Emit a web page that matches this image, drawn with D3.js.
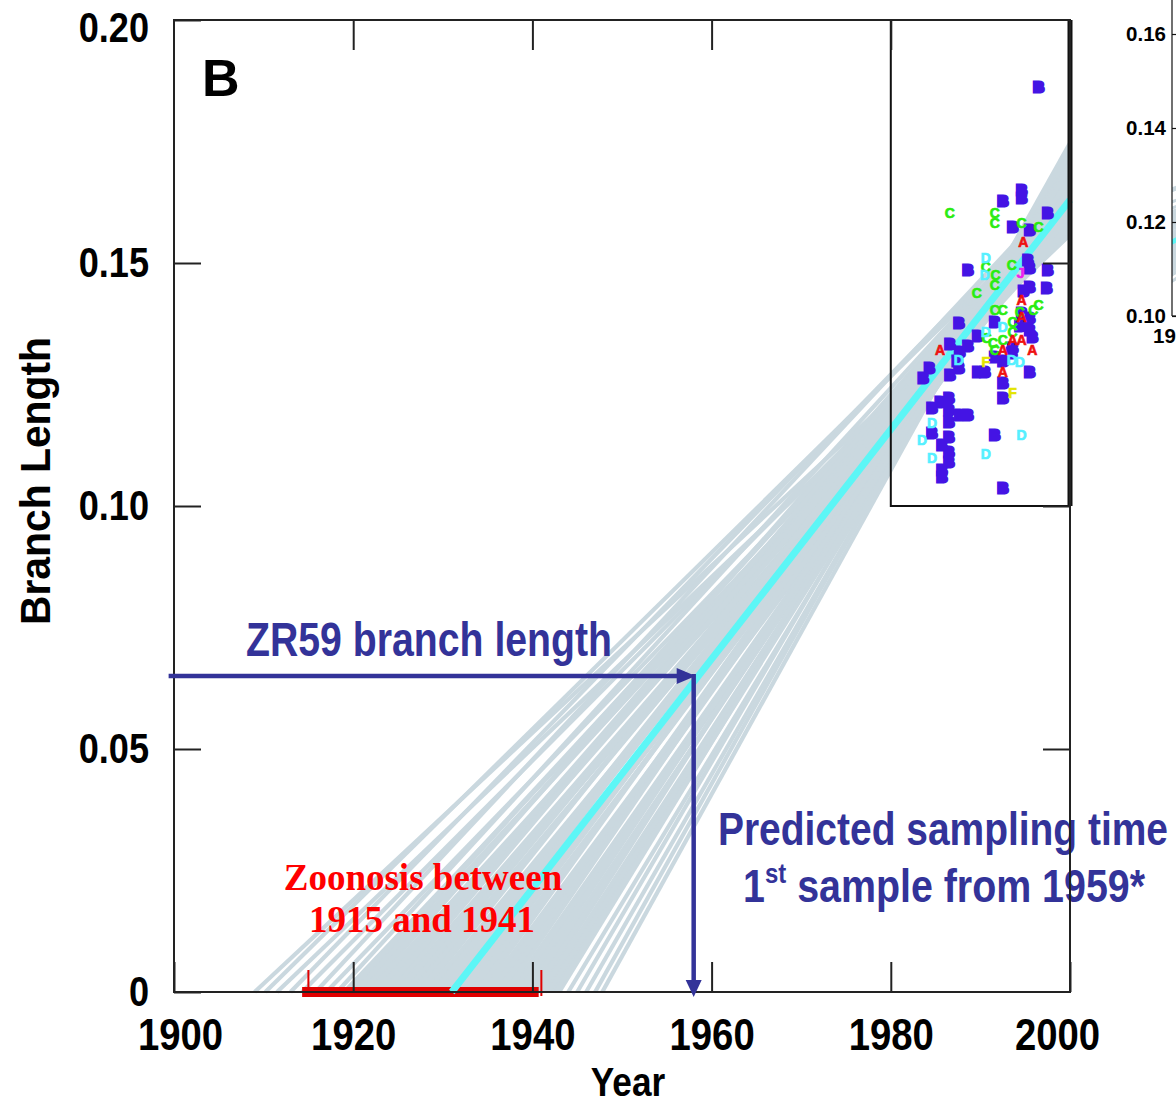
<!DOCTYPE html>
<html><head><meta charset="utf-8">
<script src="https://cdn.jsdelivr.net/npm/d3@7"></script>
<style>body{margin:0;background:#fff}svg{display:block}</style>
</head><body>
<svg id="c" width="1176" height="1103"></svg>
<script>
// ---------- data ----------
const xTicks = [1900, 1920, 1940, 1960, 1980, 2000];
const yTicks = [0, 0.05, 0.10, 0.15, 0.20];
const yTickLabels = ["0", "0.05", "0.10", "0.15", "0.20"];
const insetYTicks = [0.10, 0.12, 0.14, 0.16];
const insetXTicks = [1980];

// bootstrap regression lines: year where branch length = 0, and value at 2000
const fanIntercept = [1909.0,1910.2,1911.5,1913.0,1914.3,1915.8,1917.0,1918.2,
  1919.0,1919.8,1920.6,1921.4,1922.2,1923.0,1923.8,1924.6,1925.4,1926.2,1927.0,1927.8,
  1928.6,1929.4,1930.2,1931.0,1931.8,1932.6,1933.4,1934.2,1935.0,1935.8,1936.6,1937.4,
  1938.2,1939.0,1939.8,1940.6,1941.4,1942.2,1943.0,1944.0,1945.0,1946.0,1947.0,1947.8,
  1919.4,1920.2,1921.0,1921.8,1922.6,1923.4,1924.2,1925.0,1925.8,1926.6,1927.4,1928.2,
  1929.0,1929.8,1930.6,1931.4,1932.2,1933.0,1933.8,1934.6,1935.4,1936.2,1937.0,1937.8,
  1938.6,1939.4,1940.2,1941.0,1941.8,1942.6];
const fanEnd2000 = [0.1565,0.1630,0.1558,0.1650,0.1587,0.1662,0.1581,0.1645,
  0.1575,0.1622,0.1601,0.1649,0.1572,0.1619,0.1644,0.1601,0.1592,0.1640,0.1620,0.1668,
  0.1590,0.1639,0.1665,0.1622,0.1613,0.1662,0.1642,0.1691,0.1613,0.1663,0.1690,0.1647,
  0.1639,0.1689,0.1670,0.1721,0.1666,0.1694,0.1722,0.1704,0.1734,0.1728,0.1747,0.1741,
  0.1610,0.1589,0.1636,0.1582,0.1630,0.1609,0.1657,0.1580,0.1627,0.1607,0.1655,0.1601,
  0.1649,0.1629,0.1678,0.1600,0.1649,0.1629,0.1678,0.1623,0.1673,0.1653,0.1703,0.1637,
  0.1676,0.1656,0.1707,0.1676,0.1703,0.1696];

// best-fit line
const fitYears = [1931, 2000];
const fitValues = [0, 0.163];

// ZR59
const zr59Year = 1958;
const zr59Length = 0.065;
const arrowStartYear = 1899.4;

// zoonosis interval
const zoonosisYears = [1915, 1941];
const zoonosisBar = [1914.3, 1940.7];

// sampled sequences (year, branch length, subtype)
const ptYear = [1996.5,1994.6,1994.6,1992.5,1993.6,1995.5,1997.5,1988.6,1995.3,1995.5,1997.5,1994.8,1995.5,1997.4,
  1994.6,1995.5,1987.6,1991.6,1994.4,1995.5,1989.7,1995.8,1986.6,1988.6,1993.6,1987.7,1991.6,1992.5,1987.4,1984.3,
  1987.6,1986.6,1989.7,1990.5,1995.5,1983.6,1992.5,1992.5,1986.5,1986.5,1986.5,1985.5,1984.6,1987.7,1988.6,1984.6,
  1986.5,1991.6,1985.7,1986.5,1986.5,1985.7,1985.7,1992.5,1993.5,
  1986.6,1991.6,1991.6,1994.6,1996.5,1990.6,1991.7,1989.6,1993.5,1991.6,1991.6,1992.5,1995.9,1996.5,1993.6,1993.6,
  1991.4,1992.5,1991.6,1990.7,1994.4,
  1994.8,1994.6,1994.6,1993.6,1994.6,1985.5,1992.5,1995.8,1992.5,
  1990.6,1990.5,1992.5,1990.6,1987.6,1993.5,1994.4,1984.6,1983.5,1994.6,1984.6,1990.6,
  1990.6,1993.6,
  1994.5];
const ptLength = [0.1862,0.1652,0.1634,0.1628,0.1574,0.1568,0.1603,0.1486,0.1506,0.1490,0.1486,0.1444,0.1451,0.1449,
  0.1397,0.1387,0.1377,0.1379,0.1372,0.1362,0.1350,0.1348,0.1335,0.1331,0.1325,0.1317,0.1307,0.1300,0.1300,0.1284,
  0.1284,0.1270,0.1276,0.1276,0.1276,0.1265,0.1253,0.1224,0.1224,0.1198,0.1173,0.1214,0.1202,0.1189,0.1189,0.1152,
  0.1142,0.1146,0.1126,0.1111,0.1091,0.1074,0.1060,0.1037,0.1315,
  0.1603,0.1603,0.1582,0.1582,0.1574,0.1492,0.1475,0.1438,0.1496,0.1455,0.1403,0.1403,0.1403,0.1414,0.1379,0.1358,
  0.1335,0.1342,0.1321,0.1346,0.1399,
  0.1543,0.1424,0.1389,0.1342,0.1342,0.1321,0.1321,0.1321,0.1276,
  0.1510,0.1475,0.1368,0.1358,0.1300,0.1300,0.1296,0.1171,0.1136,0.1146,0.1099,0.1107,
  0.1296,0.1233,
  0.1479];
const ptType = [].concat(
  Array(55).fill("B"), Array(21).fill("C"), Array(9).fill("A"),
  Array(12).fill("D"), Array(2).fill("F"), ["J"]);

const typeColor = {A:"#ee1010", B:"#4414e4", C:"#2aec10", D:"#55f0ff", F:"#e4e400", J:"#ee20ee"};

// ---------- drawing ----------
const svg = d3.select("#c");
const SANS = "'Liberation Sans', Arial, Helvetica, sans-serif";
const SERIF = "'Liberation Serif', 'Times New Roman', serif";
const x = d3.scaleLinear().domain([1900, 2000]).range([174, 1070]);
const y = d3.scaleLinear().domain([0, 0.20]).range([992, 20]);
const navy = "#333399";

const defs = svg.append("defs");
defs.append("clipPath").attr("id", "plotClip").append("rect")
  .attr("x", x(1900)).attr("y", y(0.2)).attr("width", x(2000) - x(1900)).attr("height", y(0) - y(0.2) + 6);

const lineGen = d3.line().x(d => x(d[0])).y(d => y(d[1]));
const fanData = fanIntercept.map((a, i) => [[a, 0], [2000, fanEnd2000[i]]]);

svg.append("g").attr("clip-path", "url(#plotClip)")
  .selectAll("path").data(fanData).join("path")
  .attr("d", lineGen).attr("fill", "none").attr("stroke", "#cad8df").attr("stroke-width", 4.2);

// zoonosis bar
svg.append("rect")
  .attr("x", x(zoonosisBar[0])).attr("width", x(zoonosisBar[1]) - x(zoonosisBar[0]))
  .attr("y", y(0) - 5).attr("height", 10).attr("fill", "#e00000");
svg.append("g").selectAll("line").data(zoonosisYears).join("line")
  .attr("x1", d => x(d)).attr("x2", d => x(d)).attr("y1", y(0) - 22).attr("y2", y(0) + 4)
  .attr("stroke", "#e00000").attr("stroke-width", 2);

// best fit line
svg.append("path").datum(fitYears.map((t, i) => [t, fitValues[i]]))
  .attr("d", lineGen).attr("fill", "none").attr("stroke", "#5cf6f6").attr("stroke-width", 7);

// points
const pts = ptYear.map((t, i) => ({t, v: ptLength[i], s: ptType[i]}));
svg.append("g").selectAll("text").data(pts).join("text")
  .attr("x", d => x(d.t)).attr("y", d => y(d.v)).attr("dy", "0.36em")
  .attr("text-anchor", "middle").attr("font-family", SANS).attr("font-weight", "bold")
  .attr("font-size", d => d.s === "B" ? 15 : 14)
  .attr("fill", d => typeColor[d.s])
  .attr("stroke", d => typeColor[d.s]).attr("stroke-width", d => d.s === "B" ? 3 : 0.7)
  .text(d => d.s);

// inset box
svg.append("rect").attr("x", x(1980)).attr("y", y(0.2)).attr("width", x(2000) - x(1980))
  .attr("height", y(0.10) - y(0.2)).attr("fill", "none").attr("stroke", "#111").attr("stroke-width", 2);
svg.append("line").attr("x1", x(2000)).attr("x2", x(2000)).attr("y1", y(0.2)).attr("y2", y(0.10))
  .attr("stroke", "#111").attr("stroke-width", 5);

// frame
svg.append("rect").attr("x", x(1900)).attr("y", y(0.2)).attr("width", x(2000) - x(1900))
  .attr("height", y(0) - y(0.2)).attr("fill", "none").attr("stroke", "#222").attr("stroke-width", 2);

function condense(sel, k) {
  sel.each(function () {
    const L = this.getComputedTextLength();
    d3.select(this).attr("textLength", L * k).attr("lengthAdjust", "spacingAndGlyphs");
  });
}

// axes
const gB = svg.append("g").attr("transform", `translate(0,${y(0)})`)
  .call(d3.axisBottom(x).tickValues(xTicks).tickSizeInner(-30).tickSizeOuter(0).tickPadding(27).tickFormat(d3.format("d")));
const gL = svg.append("g").attr("transform", `translate(${x(1900)},0)`)
  .call(d3.axisLeft(y).tickValues(yTicks).tickSizeInner(-27).tickSizeOuter(0).tickPadding(25)
    .tickFormat((d, i) => yTickLabels[i]));
const gT = svg.append("g").attr("transform", `translate(0,${y(0.2)})`)
  .call(d3.axisTop(x).tickValues(xTicks.slice(1, -1)).tickSizeInner(-30).tickSizeOuter(0).tickFormat(""));
const gR = svg.append("g").attr("transform", `translate(${x(2000)},0)`)
  .call(d3.axisRight(y).tickValues(yTicks.slice(1, -1)).tickSizeInner(-27).tickSizeOuter(0).tickFormat(""));
[gB, gL, gT, gR].forEach(g => {
  g.select(".domain").remove();
  g.selectAll("line").attr("stroke", "#222").attr("stroke-width", 2);
  g.selectAll("text").attr("font-family", SANS).attr("font-weight", "bold").attr("fill", "#000");
});
gB.selectAll("text").attr("font-size", 44);
gB.selectAll("text").filter(d => d === 1900).attr("dx", 6);
gB.selectAll("text").filter(d => d === 2000).attr("dx", -13);
gL.selectAll("text").attr("font-size", 42);
gL.selectAll("text").filter(d => d === 0.2).attr("dy", "0.52em");
condense(gB.selectAll("text"), 0.87);
condense(gL.selectAll("text"), 0.86);

// axis titles
svg.append("text").attr("x", 628).attr("y", 1096).attr("text-anchor", "middle")
  .attr("font-family", SANS).attr("font-weight", "bold").attr("font-size", 40).text("Year")
  .call(s => condense(s, 0.88));
svg.append("text").attr("transform", "translate(50,481) rotate(-90)").attr("text-anchor", "middle")
  .attr("font-family", SANS).attr("font-weight", "bold").attr("font-size", 43).text("Branch Length")
  .attr("textLength", 288).attr("lengthAdjust", "spacingAndGlyphs");

// panel letter
svg.append("text").attr("x", 202).attr("y", 96).attr("font-family", SANS).attr("font-weight", "bold")
  .attr("font-size", 52).text("B");

// right clipped inset (next panel)
const xi = d3.scaleLinear().domain([1980, 2000]).range([1172, 1652]);
const yi = d3.scaleLinear().domain([0.10, 0.16]).range([316, 34]);
defs.append("clipPath").attr("id", "insetClip").append("rect")
  .attr("x", 1172).attr("y", 0).attr("width", 10).attr("height", 316);
const lineI = d3.line().x(d => xi(d[0])).y(d => yi(d[1]));
const gI = svg.append("g").attr("clip-path", "url(#insetClip)");
gI.selectAll("path.f").data(fanData).join("path").attr("class", "f")
  .attr("d", lineI).attr("fill", "none").attr("stroke", "#cad8df").attr("stroke-width", 3);
gI.append("path").datum(fitYears.map((t, i) => [t, fitValues[i]]))
  .attr("d", lineI).attr("fill", "none").attr("stroke", "#5cf6f6").attr("stroke-width", 5);
const gIL = svg.append("g").attr("transform", "translate(1172,0)")
  .call(d3.axisLeft(yi).tickValues(insetYTicks).tickSizeInner(-5).tickSizeOuter(0).tickPadding(6).tickFormat(d3.format(".2f")));
gIL.select(".domain").remove();
gIL.selectAll("line").attr("stroke", "#111").attr("stroke-width", 1.2);
gIL.selectAll("text").attr("font-family", SANS).attr("font-weight", "bold").attr("font-size", 20.5).attr("fill", "#000");
svg.append("line").attr("x1", 1172).attr("x2", 1172).attr("y1", 0).attr("y2", yi(0.10))
  .attr("stroke", "#111").attr("stroke-width", 1.2);
svg.append("line").attr("x1", 1172).attr("x2", 1176).attr("y1", yi(0.10)).attr("y2", yi(0.10))
  .attr("stroke", "#111").attr("stroke-width", 1.2);
svg.append("g").selectAll("text").data(insetXTicks).join("text")
  .attr("x", d => xi(d) - 19).attr("y", 343).attr("text-anchor", "start")
  .attr("font-family", SANS).attr("font-weight", "bold").attr("font-size", 20.5).text(d => d);

// annotations: zoonosis
svg.append("text").attr("x", 423).attr("y", 890).attr("text-anchor", "middle")
  .attr("font-family", SERIF).attr("font-weight", "bold").attr("font-size", 37).attr("fill", "#ff0000")
  .text("Zoonosis between");
svg.append("text").attr("x", 422).attr("y", 932).attr("text-anchor", "middle")
  .attr("font-family", SERIF).attr("font-weight", "bold").attr("font-size", 37).attr("fill", "#ff0000")
  .text(`${zoonosisYears[0]} and ${zoonosisYears[1]}`);

// ZR59 arrows
const ax = x(zr59Year), ay = y(zr59Length);
svg.append("line").attr("x1", x(arrowStartYear)).attr("x2", ax - 12).attr("y1", ay).attr("y2", ay)
  .attr("stroke", navy).attr("stroke-width", 4.5);
svg.append("path").attr("d", `M${ax - 17},${ay - 8}L${ax + 2},${ay}L${ax - 17},${ay + 8}Z`).attr("fill", navy);
svg.append("line").attr("x1", ax).attr("x2", ax).attr("y1", ay - 2).attr("y2", y(0) - 8)
  .attr("stroke", navy).attr("stroke-width", 4.5);
svg.append("path").attr("d", `M${ax - 8},${y(0) - 12}L${ax},${y(0) + 5}L${ax + 8},${y(0) - 12}Z`).attr("fill", navy);

svg.append("text").attr("x", 246).attr("y", 656).attr("font-family", SANS).attr("font-weight", "bold")
  .attr("font-size", 48).attr("fill", navy).attr("textLength", 366).attr("lengthAdjust", "spacingAndGlyphs")
  .text("ZR59 branch length");
svg.append("text").attr("x", 718).attr("y", 845).attr("font-family", SANS).attr("font-weight", "bold")
  .attr("font-size", 46).attr("fill", navy).attr("textLength", 450).attr("lengthAdjust", "spacingAndGlyphs")
  .text("Predicted sampling time");
const t2 = svg.append("g").attr("transform", "translate(743,902) scale(0.856,1)")
  .append("text").attr("font-family", SANS).attr("font-weight", "bold").attr("font-size", 46).attr("fill", navy);
t2.append("tspan").text("1");
t2.append("tspan").attr("font-size", 28).attr("dy", -19).text("st");
t2.append("tspan").attr("dy", 19).text(` sample from ${zr59Year + 1}*`);

// frame redraw over text on right edge
svg.append("line").attr("x1", x(2000)).attr("x2", x(2000)).attr("y1", y(0.10)).attr("y2", y(0))
  .attr("stroke", "#222").attr("stroke-width", 2);
</script>
</body></html>
